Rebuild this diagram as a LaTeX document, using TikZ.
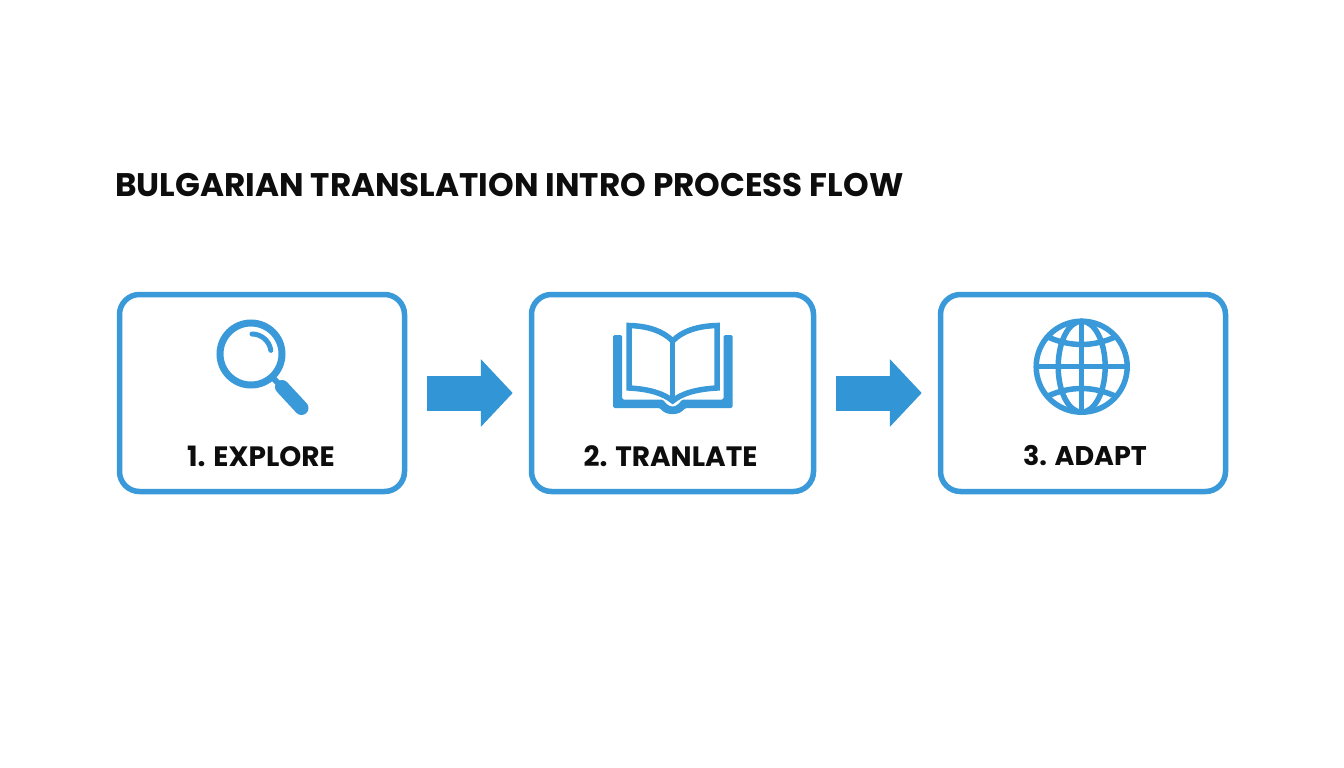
\documentclass[tikz,border=0pt]{standalone}
\usepackage{fontspec}
\setmainfont{Poppins}[BoldFont={Poppins Bold}]
\usetikzlibrary{arrows.meta}
\definecolor{blu}{HTML}{3A9AD9}
\definecolor{arr}{HTML}{3195D6}
\tikzset{
 x=1pt,y=-1pt,
 card/.style={draw=blu,line width=5.5pt,rounded corners=20pt,fill=white,inner sep=0pt,minimum height=197pt},
 lbl/.style={font=\bfseries\fontsize{28}{30}\selectfont,text=black!95,inner sep=0pt,anchor=center},
 flow/.style={draw=arr,line width=35pt,-{Triangle[length=32pt,width=66pt]},shorten <=20pt,shorten >=16pt},
 ink/.style={draw=blu,line width=5.5pt}
}
\begin{document}
\begin{tikzpicture}
\useasboundingbox (0,0) rectangle (1344,768);
\fill[white] (0,0) rectangle (1344,768);
\node[font=\bfseries\fontsize{32.65}{38}\selectfont,text=black!95,anchor=west,inner sep=0pt] (title) at (115,185) {BULGARIAN TRANSLATION INTRO PROCESS FLOW};
\node[card,minimum width=285pt] (b1) at (262,393) {};
\node[card,minimum width=282pt] (b2) at (672.5,393) {};
\node[card,minimum width=285pt] (b3) at (1083,393) {};
\draw[flow] (b1.east) -- (b1.east -| b2.west);
\draw[flow] (b2.east) -- (b2.east -| b3.west);
\node[lbl] (l1) at (261,456) {1. EXPLORE};
\node[lbl] (l2) at (670.5,456) {2. TRANLATE};
\node[lbl,font=\bfseries\fontsize{27}{30}\selectfont] (l3) at (1085,456) {3. ADAPT};
% magnifier
\draw[ink,line width=7pt] (251,354) circle (31);
\draw[blu,line width=5pt,line cap=round] (252,334) arc (-90:-8:19);
\draw[blu,line width=6pt] (272,377) -- (281,386);
\draw[blu,line width=14pt,line cap=round] (282,387) -- (301.5,408);
% book
\fill[blu,rounded corners=1.5pt] (613,335) -- (622,335) -- (622,399.5) -- (663,399.5) .. controls (666,404) and (669,406) .. (672.7,406.5) .. controls (676,406) and (679,404) .. (682,399.5) -- (723.5,399.5) -- (723.5,335) -- (732.7,335) -- (732.7,408) -- (685,408) .. controls (682,412) and (678,414) .. (672.7,414) .. controls (667,414) and (663,412) .. (660,408) -- (613,408) -- cycle;
\draw[ink,line join=miter] (629,325.5) .. controls (648,326) and (663,331) .. (672.7,341) .. controls (682,331) and (698,326) .. (717,325.5) -- (717,388) .. controls (698,389) and (682,393) .. (672.7,401) .. controls (663,393) and (648,389) .. (629,388) -- cycle;
\draw[ink,line width=4.5pt] (672.7,341) -- (672.7,401);
% globe
\draw[ink] (1081.7,366.7) circle (45.5);
\draw[ink] (1081.7,366.7) ellipse (23.5 and 45.5);
\draw[ink] (1081.7,321.2) -- (1081.7,412.2);
\draw[ink] (1036.2,366.7) -- (1127.2,366.7);
\draw[ink] (1048,337) .. controls (1070,347) and (1093,347) .. (1115,337);
\draw[ink] (1048,396) .. controls (1070,386) and (1093,386) .. (1115,396);
\end{tikzpicture}
\end{document}
